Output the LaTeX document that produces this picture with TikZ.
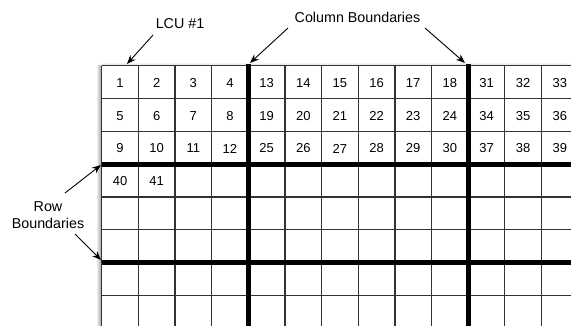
\documentclass[tikz,border=0pt]{standalone}
\usepackage{fontspec}
\setmainfont{Liberation Sans}
\usetikzlibrary{arrows.meta}
\begin{document}
\begin{tikzpicture}[x=1pt,y=-1pt,
  thinline/.style={line width=1.2pt,draw=black!80},
  thickline/.style={line width=5pt,draw=black},
  num/.style={font=\fontsize{13}{15}\selectfont,inner sep=0pt,anchor=center},
  lbl/.style={font=\fontsize{14.3}{17}\selectfont,inner sep=0pt,align=center},
  pointer/.style={line width=0.9pt,-{Stealth[length=9pt,width=7pt]}}]
\useasboundingbox (0,0) rectangle (571,325);
\fill[white] (0,0) rectangle (571,325);
\def\xo{101.7}\def\cw{36.65}\def\yo{65.7}\def\rh{32.8}
% shadow
\shade[left color=white,right color=black!40] (96,\yo) rectangle (\xo,325);
\shade[top color=white,bottom color=black!15] (\xo,62) rectangle (571,\yo);
\begin{scope}
\clip (0,0) rectangle (571,325);
\fill[white] (\xo,\yo) rectangle (600,340);
\foreach \i in {0,...,13} {
  \draw[thinline] ({\xo+\i*\cw},\yo) -- ({\xo+\i*\cw},340);
}
\foreach \j in {0,...,8} {
  \draw[thinline] (\xo,{\yo+\j*\rh}) -- (600,{\yo+\j*\rh});
}
\draw[thickline] ({\xo+4*\cw},{\yo-2}) -- ({\xo+4*\cw},340);
\draw[thickline] ({\xo+10*\cw},{\yo-2}) -- ({\xo+10*\cw},340);
\draw[thickline] (\xo,{\yo+3*\rh}) -- (600,{\yo+3*\rh});
\draw[thickline] (\xo,{\yo+6*\rh}) -- (600,{\yo+6*\rh});
% numbers
\foreach \n/\c/\r in {1/0/0,2/1/0,3/2/0,4/3/0,5/0/1,6/1/1,7/2/1,8/3/1,9/0/2,10/1/2,11/2/2,12/3/2,
  13/4/0,14/5/0,15/6/0,16/7/0,17/8/0,18/9/0,
  19/4/1,20/5/1,21/6/1,22/7/1,23/8/1,24/9/1,
  25/4/2,26/5/2,27/6/2,28/7/2,29/8/2,30/9/2,
  31/10/0,32/11/0,33/12/0,34/10/1,35/11/1,36/12/1,37/10/2,38/11/2,39/12/2,
  40/0/3,41/1/3} {
  \node[num] (c\n) at ({\xo+(\c+0.5)*\cw},{\yo+(\r+0.5)*\rh+0.8}) {\n};
}
\end{scope}
% labels
\node[lbl] (lcu) at (180,24) {LCU \#1};
\node[lbl] (colb) at (357.5,17) {Column Boundaries};
\node[lbl] (rowb) at (48,215) {Row\\Boundaries};
\coordinate (lcuS) at (153,35);
\coordinate (lcuE) at (127,64);
\coordinate (cbS1) at (288,28);
\coordinate (cbE1) at (250,63);
\coordinate (cbS2) at (425,28);
\coordinate (cbE2) at (465,63);
\coordinate (rbS1) at (65,193);
\coordinate (rbE1) at (101,165);
\coordinate (rbS2) at (75,234);
\coordinate (rbE2) at (101,260);
\draw[pointer] (lcuS) -- (lcuE);
\draw[pointer] (cbS1) -- (cbE1);
\draw[pointer] (cbS2) -- (cbE2);
\draw[pointer] (rbS1) -- (rbE1);
\draw[pointer] (rbS2) -- (rbE2);
\end{tikzpicture}
\end{document}
